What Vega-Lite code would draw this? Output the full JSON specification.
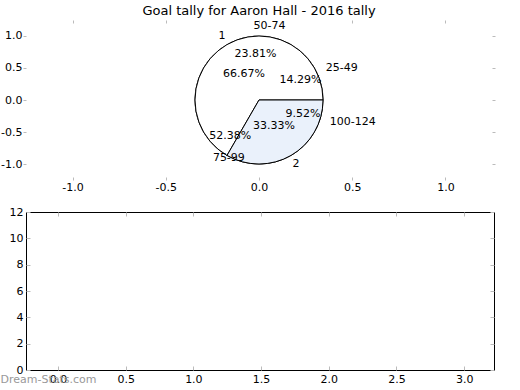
{
  "$schema": "https://vega.github.io/schema/vega-lite/v6.json",
  "background": "white",
  "padding": {"left": 0, "top": 4, "right": 5, "bottom": 0},
  "spacing": 35,
  "bounds": "flush",
  "title": {"text": "Dream-Stats.com", "orient": "bottom", "anchor": "start", "frame": "bounds", "color": "#999999", "fontSize": 11, "offset": -11},
  "config": {
    "font": "DejaVu Sans",
    "axis": {"labelFont": "DejaVu Sans", "labelFontSize": 11, "labelColor": "black", "tickColor": "#bbbbbb", "tickSize": 3, "domain": false, "grid": false, "title": null, "labelPadding": 1, "labelExpr": "replace(datum.label, '\u2212', '-')"},
    "view": {"stroke": null},
    "title": {"font": "DejaVu Sans", "fontSize": 13, "fontWeight": "normal", "color": "black"},
    "text": {"font": "DejaVu Sans", "fontSize": 11}
  },
  "datasets": {
    "tally": [
      {"tally": 1, "goals": 14, "share": 0.6667},
      {"tally": 2, "goals": 7, "share": 0.3333}
    ],
    "ranges": [
      {"range": "25-49", "lo": 25, "goals": 3, "share": 0.1429},
      {"range": "50-74", "lo": 50, "goals": 5, "share": 0.2381},
      {"range": "75-99", "lo": 75, "goals": 11, "share": 0.5238},
      {"range": "100-124", "lo": 100, "goals": 2, "share": 0.0952}
    ]
  },
  "vconcat": [
    {
      "width": 466,
      "height": 154,
      "title": {"text": "Goal tally for Aaron Hall - 2016 tally", "offset": 2},
      "resolve": {"axis": {"x": "independent", "y": "independent"}},
      "layer": [
        {
          "data": {"name": "ranges"},
          "mark": {"type": "arc", "radius": 64, "fill": "white", "stroke": "black", "strokeWidth": 1},
          "encoding": {
            "x": {"datum": 0, "type": "quantitative", "scale": {"domain": [-1.25, 1.25], "nice": false, "zero": false}, "axis": {"values": [-1, -0.5, 0, 0.5, 1], "format": ".1f"}},
            "y": {"datum": 0, "type": "quantitative", "scale": {"domain": [-1.2, 1.2], "nice": false, "zero": false}, "axis": {"values": [-1, -0.5, 0, 0.5, 1], "format": ".1f"}},
            "theta": {"field": "share", "type": "quantitative", "stack": true, "scale": {"domain": [0, 1], "range": [1.5708, -4.7124]}},
            "order": {"field": "lo", "type": "quantitative", "sort": "ascending"}
          }
        },
        {
          "data": {"name": "tally"},
          "mark": {"type": "arc", "radius": 64, "stroke": "black", "strokeWidth": 1},
          "encoding": {
            "x": {"datum": 0, "type": "quantitative", "axis": {"orient": "top", "labels": false, "values": [-1, -0.5, 0, 0.5, 1]}},
            "y": {"datum": 0, "type": "quantitative", "axis": {"orient": "right", "labels": false, "values": [-1, -0.5, 0, 0.5, 1]}},
            "theta": {"field": "share", "type": "quantitative", "stack": true},
            "order": {"field": "tally", "type": "quantitative", "sort": "ascending"},
            "fill": {"field": "tally", "type": "nominal", "scale": {"domain": [1, 2], "range": ["#ffffff", "#eaf1fb"]}, "legend": null}
          }
        },
        {
          "data": {"name": "ranges"},
          "mark": {"type": "text", "radius": 74, "align": "left"},
          "encoding": {
            "theta": {"field": "share", "type": "quantitative", "stack": true},
            "order": {"field": "lo", "type": "quantitative", "sort": "ascending"},
            "text": {"field": "range", "type": "nominal"}
          }
        },
        {
          "data": {"name": "ranges"},
          "mark": {"type": "text", "radius": 46},
          "encoding": {
            "theta": {"field": "share", "type": "quantitative", "stack": true},
            "order": {"field": "lo", "type": "quantitative", "sort": "ascending"},
            "text": {"field": "share", "type": "quantitative", "format": ".2%"}
          }
        },
        {
          "data": {"name": "tally"},
          "mark": {"type": "text", "radius": 74},
          "encoding": {
            "theta": {"field": "share", "type": "quantitative", "stack": true},
            "order": {"field": "tally", "type": "quantitative", "sort": "ascending"},
            "text": {"field": "tally", "type": "nominal"}
          }
        },
        {
          "data": {"name": "tally"},
          "mark": {"type": "text", "radius": 30},
          "encoding": {
            "theta": {"field": "share", "type": "quantitative", "stack": true},
            "order": {"field": "tally", "type": "quantitative", "sort": "ascending"},
            "text": {"field": "share", "type": "quantitative", "format": ".2%"}
          }
        }
      ]
    },
    {
      "width": 468,
      "height": 158,
      "view": {"stroke": "black"},
      "resolve": {"axis": {"x": "independent", "y": "independent"}},
      "layer": [
        {
          "data": {"values": []},
          "mark": "point",
          "encoding": {
            "x": {"field": "x", "type": "quantitative", "scale": {"domain": [-0.236, 3.22], "nice": false, "zero": false}, "axis": {"values": [0, 0.5, 1, 1.5, 2, 2.5, 3], "format": ".1f", "tickSize": -4, "labelPadding": 7}},
            "y": {"field": "y", "type": "quantitative", "scale": {"domain": [0, 12], "nice": false}, "axis": {"values": [0, 2, 4, 6, 8, 10, 12], "tickSize": -4, "labelPadding": 7}}
          }
        },
        {
          "data": {"values": []},
          "mark": "point",
          "encoding": {
            "x": {"field": "x", "type": "quantitative", "axis": {"orient": "top", "labels": false, "values": [0, 0.5, 1, 1.5, 2, 2.5, 3], "tickSize": -4}},
            "y": {"field": "y", "type": "quantitative", "axis": {"orient": "right", "labels": false, "values": [0, 2, 4, 6, 8, 10, 12], "tickSize": -4}}
          }
        }
      ]
    }
  ]
}
